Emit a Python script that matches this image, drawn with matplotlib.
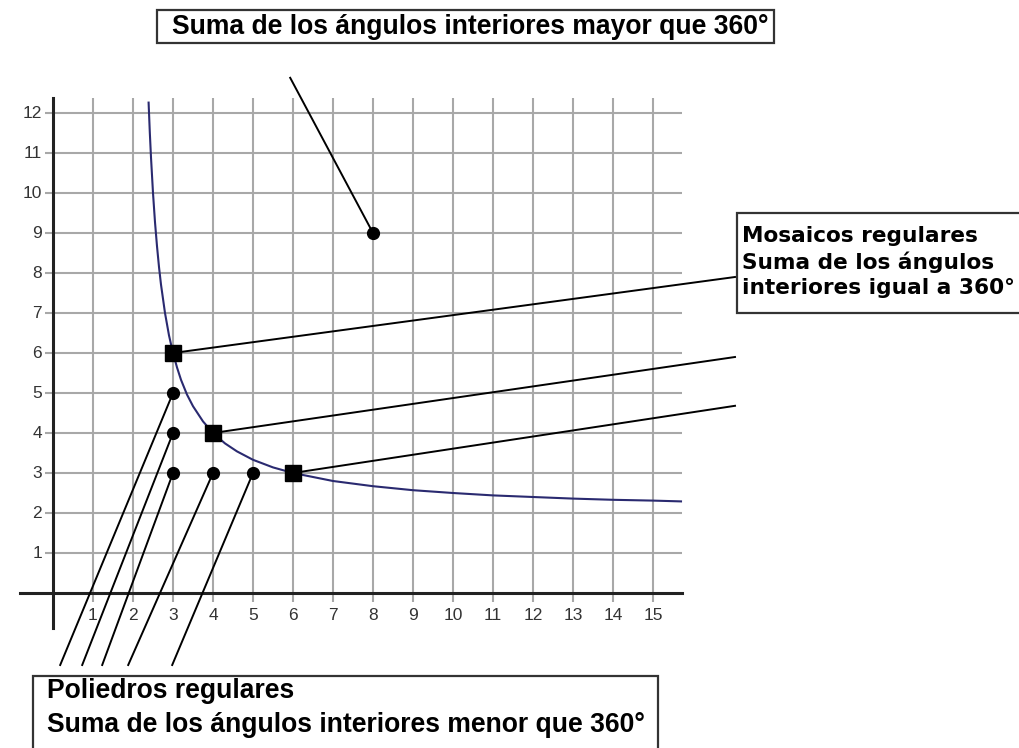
import matplotlib.pyplot as plt
from matplotlib.patches import Rectangle

# puntos (p, q)
curva_x = [2.39, 2.42, 2.45, 2.5, 2.55, 2.6, 2.65, 2.7, 2.8, 2.9, 3.0, 3.1, 3.2, 3.35, 3.5,
           3.75, 4.0, 4.3, 4.6, 5.0, 5.5, 6.0, 7.0, 8.0, 9.0, 10.0, 11.0, 12.0, 13.0, 14.0, 15.0, 15.7]
curva_y = [12.26, 11.52, 10.89, 10.0, 9.27, 8.67, 8.15, 7.71, 7.0, 6.44, 6.0, 5.64, 5.33, 4.96, 4.67,
           4.29, 4.0, 3.74, 3.54, 3.33, 3.14, 3.0, 2.8, 2.67, 2.57, 2.5, 2.44, 2.4, 2.36, 2.33, 2.31, 2.29]

mosaicos_x = [3, 4, 6]
mosaicos_y = [6, 4, 3]
poliedros_x = [3, 3, 3, 4, 5]
poliedros_y = [5, 4, 3, 3, 3]
mayor_x = [8]
mayor_y = [9]

xticks = list(range(1, 16))
yticks = list(range(1, 13))

W, H = 1020, 748
fig = plt.figure(figsize=(W / 100, H / 100), dpi=100)
ax = fig.add_axes([0, 0, 1, 1])
ax.set_xlim(-1.325, 24.175)
ax.set_ylim(-3.875, 14.825)
ax.axis('off')

gris = '#a8a8a8'
# cuadricula
ax.vlines(xticks, -0.22, 12.375, color=gris, linewidth=1.5, zorder=1)
ax.hlines(yticks, -0.2, 15.73, color=gris, linewidth=1.5, zorder=1)
# ejes
ax.plot([-0.83, 15.73], [0, 0], color='#222222', linewidth=2.2, zorder=2)
ax.plot([0, 0], [-0.88, 12.375], color='#222222', linewidth=2.2, zorder=2)

for t in xticks:
    ax.text(t, -0.55, str(t), ha='center', va='center', fontsize=12.5,
            family='Liberation Sans', color='#333333')
for t in yticks:
    ax.text(-0.27, t, str(t), ha='right', va='center', fontsize=12.5,
            family='Liberation Sans', color='#333333')

# curva
ax.plot(curva_x, curva_y, color='#2a2a70', linewidth=1.5, zorder=3)

# lineas de referencia
lk = dict(color='black', linewidth=1.4, zorder=4, clip_on=False)
ax.plot([mayor_x[0], 5.93], [mayor_y[0], 12.88], **lk)
fin_der = [7.9, 5.9, 4.68]
for px, py, fy in zip(mosaicos_x, mosaicos_y, fin_der):
    ax.plot([px, 17.05], [py, fy], **lk)
fin_izq = [0.18, 0.73, 1.23, 1.88, 2.98]
for px, py, fx in zip(poliedros_x, poliedros_y, fin_izq):
    ax.plot([px, fx], [py, -1.8], **lk)

ax.plot(mosaicos_x, mosaicos_y, 's', color='black', markersize=11.5, zorder=5)
ax.plot(poliedros_x + mayor_x, poliedros_y + mayor_y, 'o', color='black',
        markersize=8.5, zorder=5)


def caja(x0, y0, x1, y1):
    # rectangulo en pixeles de la figura (y desde arriba)
    r = Rectangle((x0 / W, 1 - y1 / H), (x1 - x0) / W, (y1 - y0) / H,
                  transform=fig.transFigure, facecolor='white', edgecolor='#333333',
                  linewidth=1.6, zorder=6)
    fig.patches.append(r)


caja(157, 10, 774, 43)
caja(737, 213, 1030, 313)
caja(33, 676, 658, 760)

fig.text(172 / W, 1 - 27 / H, 'Suma de los ángulos interiores mayor que 360°',
         ha='left', va='center', fontsize=19.1, fontweight='bold', family='Liberation Sans',
         zorder=7)
fig.text(742 / W, 1 - 262 / H,
         'Mosaicos regulares\nSuma de los ángulos\ninteriores igual a 360°',
         ha='left', va='center', fontsize=15.6, fontweight='bold', family='DejaVu Sans',
         linespacing=1.32, zorder=7)
fig.text(47 / W, 1 - 708 / H,
         'Poliedros regulares\nSuma de los ángulos interiores menor que 360°',
         ha='left', va='center', fontsize=19.1, fontweight='bold', family='Liberation Sans',
         linespacing=1.37, zorder=7)

fig.savefig('out.png', dpi=100)
